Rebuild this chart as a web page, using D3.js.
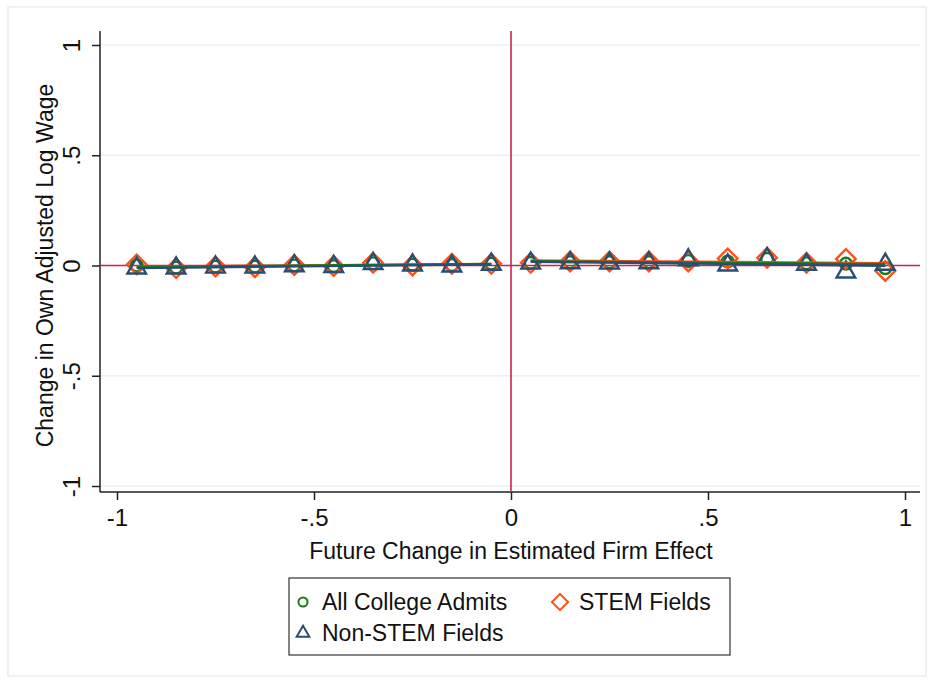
<!DOCTYPE html>
<html>
<head>
<meta charset="utf-8">
<script src="https://cdn.jsdelivr.net/npm/d3@7"></script>
<style>
  body { margin: 0; background: #fff; }
  text { font-family: "Liberation Sans", Arial, Helvetica, sans-serif; fill: #111; }
</style>
</head>
<body>
<svg id="chart" width="933" height="683"></svg>
<script>
// bins of the future change in firm effect
var bins = [-0.95, -0.85, -0.75, -0.65, -0.55, -0.45, -0.35, -0.25, -0.15, -0.05,
            0.05, 0.15, 0.25, 0.35, 0.45, 0.55, 0.65, 0.75, 0.85, 0.95];
var allAdmits = [0.000, -0.010, -0.005, -0.005, 0.000, -0.003, 0.010, 0.003, 0.002, 0.008,
                 0.012, 0.015, 0.015, 0.015, 0.020, 0.018, 0.030, 0.010, 0.008, -0.012];
var stemFields = [0.005, -0.012, -0.005, -0.008, 0.002, -0.002, 0.012, 0.000, 0.008, 0.008,
                  0.012, 0.018, 0.018, 0.018, 0.018, 0.032, 0.035, 0.012, 0.030, -0.025];
var nonStemFields = [-0.012, -0.012, -0.008, -0.008, -0.002, -0.005, 0.008, 0.002, -0.003, 0.005,
                     0.010, 0.012, 0.010, 0.012, 0.025, 0.002, 0.030, 0.005, -0.030, 0.005];
var xTicks = [-1, -0.5, 0, 0.5, 1];
var yTicks = [-1, -0.5, 0, 0.5, 1];
var tickLabel = function (v) {
    return v === 0 ? "0" : (v === 1 || v === -1 ? String(v) : String(v).replace("0.", "."));
};

var series = [
    {name: "All College Admits", values: allAdmits, color: "#1a7a1a", shape: "circle"},
    {name: "STEM Fields", values: stemFields, color: "#ff4f1a", shape: "diamond"},
    {name: "Non-STEM Fields", values: nonStemFields, color: "#2a4d73", shape: "triangle"}
];

var svg = d3.select("#chart");

// outer frame
svg.append("rect")
    .attr("x", 8).attr("y", 7).attr("width", 918).attr("height", 669)
    .attr("fill", "none").attr("stroke", "#e8eef2").attr("stroke-width", 1.5);

var x = d3.scaleLinear().domain([-1, 1]).range([117, 905]);
var y = d3.scaleLinear().domain([-1, 1]).range([486, 45]);

var plotL = 100, plotR = 920, plotT = 31, plotB = 492;

// grid lines
svg.selectAll(".grid")
    .data(yTicks.filter(function (d) { return d !== 0; }))
    .enter()
    .append("line")
    .attr("x1", plotL).attr("x2", plotR)
    .attr("y1", function (d) { return y(d); })
    .attr("y2", function (d) { return y(d); })
    .attr("stroke", "#e9f0f4").attr("stroke-width", 1.5);

// axes
var yAxis = d3.axisLeft(y).tickValues(yTicks).tickFormat(tickLabel).tickSize(8).tickSizeOuter(0);
var gy = svg.append("g").attr("transform", "translate(" + plotL + ",0)").call(yAxis);
gy.attr("font-size", null).attr("font-family", null);
gy.select(".domain").attr("d", "M0," + plotT + "V" + plotB).attr("stroke", "#222").attr("stroke-width", 1.5);
gy.selectAll(".tick line").attr("stroke", "#222").attr("stroke-width", 1.5);
gy.selectAll(".tick text")
    .attr("x", 0).attr("y", 0).attr("dy", 0)
    .attr("text-anchor", "middle")
    .attr("transform", "translate(-20,0) rotate(-90)")
    .style("font-size", "24px")
    .attr("fill", "#111");

var xAxis = d3.axisBottom(x).tickValues(xTicks).tickFormat(tickLabel).tickSize(8).tickSizeOuter(0);
var gx = svg.append("g").attr("transform", "translate(0," + plotB + ")").call(xAxis);
gx.attr("font-size", null).attr("font-family", null);
gx.select(".domain").attr("d", "M" + plotL + ",0H" + plotR).attr("stroke", "#222").attr("stroke-width", 1.5);
gx.selectAll(".tick line").attr("stroke", "#222").attr("stroke-width", 1.5);
gx.selectAll(".tick text")
    .attr("y", 17)
    .style("font-size", "24px")
    .attr("fill", "#111");

// axis titles
svg.append("text")
    .attr("x", (x(-1) + x(1)) / 2).attr("y", 559)
    .attr("text-anchor", "middle")
    .style("font-size", "23px")
    .text("Future Change in Estimated Firm Effect");

svg.append("text")
    .attr("transform", "translate(53," + y(0) + ") rotate(-90)")
    .attr("text-anchor", "middle")
    .style("font-size", "23px")
    .text("Change in Own Adjusted Log Wage");

// reference lines
svg.append("line")
    .attr("x1", plotL).attr("x2", plotR).attr("y1", y(0)).attr("y2", y(0))
    .attr("stroke", "#c8254d").attr("stroke-width", 1.6);
svg.append("line")
    .attr("x1", x(0)).attr("x2", x(0)).attr("y1", plotT).attr("y2", plotB)
    .attr("stroke", "#c8254d").attr("stroke-width", 1.6);

// markers
var symbolFor = {
    circle: d3.symbol().type(d3.symbolCircle).size(110),
    diamond: d3.symbol().type(d3.symbolSquare).size(190),
    triangle: d3.symbol().type(d3.symbolTriangle).size(150)
};

function drawMarkers(s) {
    svg.append("g")
        .selectAll("path")
        .data(bins.map(function (b, i) { return {x: b, y: s.values[i]}; }))
        .enter()
        .append("path")
        .attr("d", symbolFor[s.shape]())
        .attr("transform", function (d) {
            var t = "translate(" + x(d.x) + "," + y(d.y) + ")";
            return s.shape === "diamond" ? t + " rotate(45)" : t;
        })
        .attr("fill", "none")
        .attr("stroke", s.color)
        .attr("stroke-width", 2.4);
}

// linear fit on each side of zero
function fitLine(s, sign) {
    var pts = bins.map(function (b, i) { return [b, s.values[i]]; })
        .filter(function (p) { return sign < 0 ? p[0] < 0 : p[0] > 0; });
    var mx = d3.mean(pts, function (p) { return p[0]; });
    var my = d3.mean(pts, function (p) { return p[1]; });
    var sxy = d3.sum(pts, function (p) { return (p[0] - mx) * (p[1] - my); });
    var sxx = d3.sum(pts, function (p) { return (p[0] - mx) * (p[0] - mx); });
    var b = sxy / sxx, a = my - b * mx;
    var x0 = d3.min(pts, function (p) { return p[0]; });
    var x1 = d3.max(pts, function (p) { return p[0]; });
    return [[x0, a + b * x0], [x1, a + b * x1]];
}

var line = d3.line()
    .x(function (d) { return x(d[0]); })
    .y(function (d) { return y(d[1]); });

// draw order: markers then fits
series.forEach(function (s) { drawMarkers(s); });
[1, 0, 2].forEach(function (k) {
    var s = series[k];
    [-1, 1].forEach(function (side) {
        svg.append("path")
            .attr("d", line(fitLine(s, side)))
            .attr("fill", "none")
            .attr("stroke", s.color)
            .attr("stroke-width", 2.4);
    });
});

// legend
var lg = svg.append("g");
lg.append("rect")
    .attr("x", 289).attr("y", 578).attr("width", 441).attr("height", 77)
    .attr("fill", "#fff").attr("stroke", "#333").attr("stroke-width", 1.2);

var legendPos = [[303, 602], [560, 602], [303, 633]];
series.forEach(function (s, i) {
    var p = legendPos[i];
    var sym = s.shape === "circle" ? d3.symbol().type(d3.symbolCircle).size(65)
        : s.shape === "diamond" ? d3.symbol().type(d3.symbolSquare).size(130)
        : d3.symbol().type(d3.symbolTriangle).size(70);
    lg.append("path")
        .attr("d", sym())
        .attr("transform", "translate(" + p[0] + "," + p[1] + ")" + (s.shape === "diamond" ? " rotate(45)" : ""))
        .attr("fill", "none")
        .attr("stroke", s.color)
        .attr("stroke-width", 2);
    lg.append("text")
        .attr("x", p[0] + 19).attr("y", p[1] + 8)
        .style("font-size", "23px")
        .text(s.name);
});
</script>
</body>
</html>
